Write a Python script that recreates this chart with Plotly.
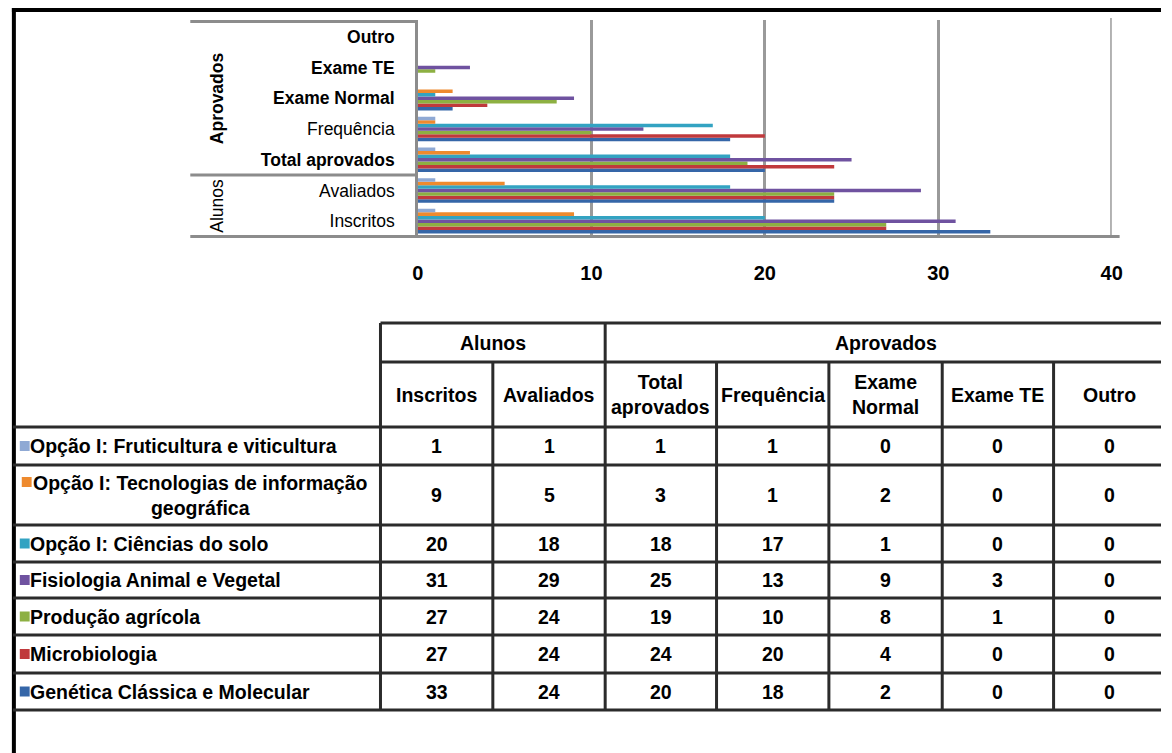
import plotly.graph_objects as go

# ---- data -------------------------------------------------------------
measures = ["Inscritos", "Avaliados", "Total aprovados", "Frequência",
            "Exame Normal", "Exame TE", "Outro"]
groups = ["Alunos", "Aprovados"]
group_sizes = [2, 5]

courses = [
    "Opção I: Fruticultura e viticultura",
    "Opção I: Tecnologias de informação geográfica",
    "Opção I: Ciências do solo",
    "Fisiologia Animal e Vegetal",
    "Produção agrícola",
    "Microbiologia",
    "Genética Clássica e Molecular",
]
fruticultura = [1, 1, 1, 1, 0, 0, 0]
tecnologias = [9, 5, 3, 1, 2, 0, 0]
ciencias_solo = [20, 18, 18, 17, 1, 0, 0]
fisiologia = [31, 29, 25, 13, 9, 3, 0]
producao = [27, 24, 19, 10, 8, 1, 0]
microbiologia = [27, 24, 24, 20, 4, 0, 0]
genetica = [33, 24, 20, 18, 2, 0, 0]
series = [fruticultura, tecnologias, ciencias_solo, fisiologia,
          producao, microbiologia, genetica]

x_ticks = [0, 10, 20, 30, 40]

# ---- style ------------------------------------------------------------
colors = ["#8FA9D4", "#EE8A2E", "#33A3C2", "#6F52A0",
          "#8DB042", "#C0393C", "#3566A8"]
FONT = "Liberation Sans, Arial, sans-serif"
W, H = 1172, 753


def px(x):
    return x / W


def py(y):
    return 1 - y / H


fig = go.Figure()

# bars: last course sits at the bottom of each category group
for name, vals, col in reversed(list(zip(courses, series, colors))):
    fig.add_trace(go.Bar(
        y=measures, x=vals, orientation="h", name=name,
        marker=dict(color=col, line=dict(width=0)),
        showlegend=False,
    ))

bold_ticks = {"Outro", "Exame TE", "Exame Normal", "Total aprovados"}
y_ticktext = [f"<b>{m}</b>" if m in bold_ticks else m for m in measures]

fig.update_layout(
    width=W, height=H,
    margin=dict(l=0, r=0, t=0, b=0),
    paper_bgcolor="white", plot_bgcolor="white",
    barmode="group", bargap=0.2, bargroupgap=0,
    font=dict(family=FONT, color="black"),
    xaxis=dict(
        domain=[px(418), px(1122)], range=[0, 40],
        tickvals=x_ticks, ticktext=[str(t) for t in x_ticks],
        tickfont=dict(size=20, weight="bold", color="black"),
        ticks="outside", ticklen=17, tickcolor="rgba(0,0,0,0)",
        showgrid=True, gridcolor="#9A9A9A", gridwidth=3,
        showline=False, zeroline=False,
    ),
    yaxis=dict(
        domain=[py(238), py(20)],
        categoryorder="array", categoryarray=measures,
        tickvals=measures, ticktext=y_ticktext,
        tickfont=dict(size=17.5, color="black"),
        ticks="outside", ticklen=17, tickcolor="rgba(0,0,0,0)",
        showgrid=False, showline=True, linecolor="#8C8C8C", linewidth=2.5,
        zeroline=False,
    ),
)

shapes = []
annotations = []
AXIS_GRAY = "#8C8C8C"

# gridline at the end of the value axis
shapes.append(dict(type="line", xref="x", yref="paper",
                   x0=x_ticks[-1], x1=x_ticks[-1], y0=py(238), y1=py(18),
                   line=dict(color="#9A9A9A", width=3)))

# multi-level category dividers
bounds = [-0.5]
for n in group_sizes:
    bounds.append(bounds[-1] + n)
for b in bounds:
    x1 = px(1130) if b == -0.5 else px(418)
    shapes.append(dict(type="line", xref="paper", yref="y",
                       x0=px(187), x1=x1, y0=b, y1=b,
                       line=dict(color=AXIS_GRAY, width=3)))
for i, g in enumerate(groups):
    mid = (bounds[i] + bounds[i + 1]) / 2
    txt = f"<b>{g}</b>" if g == "Aprovados" else g
    annotations.append(dict(xref="paper", yref="y", x=px(214), y=mid,
                            text=txt, textangle=-90, showarrow=False,
                            font=dict(size=17.5, color="black"),
                            xanchor="center", yanchor="middle"))

# ---- outer frame --------------------------------------------------------
FRAME = "#000000"
shapes.append(dict(type="line", xref="paper", yref="paper",
                   x0=px(6), x1=1, y0=py(10), y1=py(10),
                   line=dict(color=FRAME, width=4)))
shapes.append(dict(type="line", xref="paper", yref="paper",
                   x0=px(8), x1=px(8), y0=py(8), y1=0,
                   line=dict(color=FRAME, width=4)))

# ---- data table ---------------------------------------------------------
GRID = "#2B2B2B"
col_edges = [380, 494, 608, 721, 835, 950, 1063, 1177]
head_top, head_mid, head_bot = 323, 362, 427
row_edges = [427, 465, 525, 562, 598, 635, 673, 710]


def hline(y, x0, x1):
    shapes.append(dict(type="line", xref="paper", yref="paper",
                       x0=px(x0), x1=px(x1), y0=py(y), y1=py(y),
                       line=dict(color=GRID, width=3)))


def vline(x, y0, y1):
    shapes.append(dict(type="line", xref="paper", yref="paper",
                       x0=px(x), x1=px(x), y0=py(y0), y1=py(y1),
                       line=dict(color=GRID, width=3)))


hline(head_top, col_edges[0], W)
hline(head_mid, col_edges[0], W)
for y in row_edges:
    hline(y, 7, W)

group_edges = [0]
for n in group_sizes:
    group_edges.append(group_edges[-1] + n)
for j, x in enumerate(col_edges[:-1]):
    top = head_top if j in group_edges else head_mid
    vline(x, top, row_edges[-1])

# group header cells
for i, g in enumerate(groups):
    xa, xb = col_edges[group_edges[i]], col_edges[group_edges[i + 1]]
    annotations.append(dict(xref="paper", yref="paper",
                            x=px((xa + xb) / 2), y=py((head_top + head_mid) / 2),
                            text=f"<b>{g}</b>", showarrow=False,
                            font=dict(size=19.5, color="black"),
                            xanchor="center", yanchor="middle"))

# column header cells
wrapped = {"Total aprovados", "Exame Normal"}
for j, m in enumerate(measures):
    txt = m.replace(" ", "<br>") if m in wrapped else m
    annotations.append(dict(xref="paper", yref="paper",
                            x=px((col_edges[j] + col_edges[j + 1]) / 2),
                            y=py((head_mid + head_bot) / 2),
                            text=f"<b>{txt}</b>", showarrow=False, align="center",
                            font=dict(size=19.5, color="black"),
                            xanchor="center", yanchor="middle"))

# body rows: legend key, course name and values
for r, (name, vals, col) in enumerate(zip(courses, series, colors)):
    y0, y1 = row_edges[r], row_edges[r + 1]
    yc = (y0 + y1) / 2
    if name.endswith("geográfica"):
        label = name.replace(" geográfica", "<br>geográfica")
        key_y = y0 + 17
        lab_x = 25
        key_x = 16
    else:
        label = name
        key_y = yc
        lab_x = 22
        key_x = 14
    shapes.append(dict(type="rect", xref="paper", yref="paper",
                       x0=px(key_x), x1=px(key_x + 10),
                       y0=py(key_y + 5), y1=py(key_y - 5),
                       fillcolor=col, line=dict(color=col, width=0)))
    annotations.append(dict(xref="paper", yref="paper",
                            x=px(lab_x), y=py(yc),
                            text=f"<b>{label}</b>", showarrow=False, align="center",
                            font=dict(size=19.5, color="black"),
                            xanchor="left", yanchor="middle"))
    for j, v in enumerate(vals):
        annotations.append(dict(xref="paper", yref="paper",
                                x=px((col_edges[j] + col_edges[j + 1]) / 2),
                                y=py(yc), text=f"<b>{v}</b>", showarrow=False,
                                font=dict(size=19.5, color="black"),
                                xanchor="center", yanchor="middle"))

fig.update_layout(shapes=shapes, annotations=annotations)
fig.write_html("out.html")
